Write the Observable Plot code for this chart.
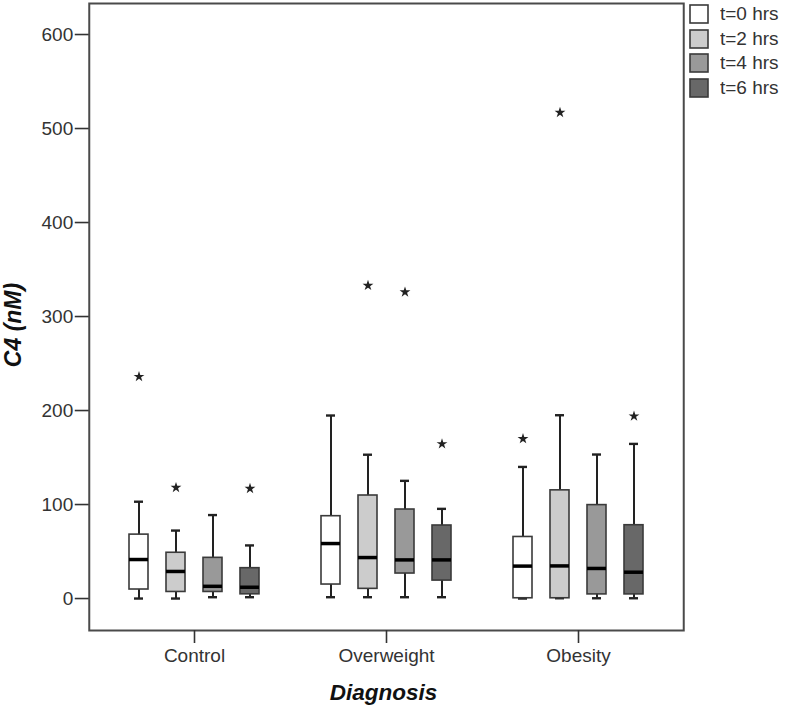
<!DOCTYPE html>
<html>
<head>
<meta charset="utf-8">
<script src="https://cdn.jsdelivr.net/npm/d3@7"></script>
<script src="https://cdn.jsdelivr.net/npm/@observablehq/plot@0.6"></script>
<style>
  html, body { margin: 0; padding: 0; background: #fff; }
  #wrap { position: relative; width: 787px; height: 706px; }
  #legend { position: absolute; left: 690px; top: 2px; }
  div.lg-swatches { font-family: "Liberation Sans", Arial, sans-serif !important; font-size: 19px !important; color: #333 !important; margin: 0 !important; }
  div.lg-swatch { height: 24.5px; padding-bottom: 0 !important; margin: 0 !important; }
  div.lg-swatch > svg { margin-right: 12px !important; }
  div.lg-swatch > svg rect { stroke: #3a3a3a; stroke-width: 1.6px; }
</style>
</head>
<body>
<div id="wrap"><div id="chart"></div><div id="legend"></div></div>
<script>
const diagnoses = ["Control", "Overweight", "Obesity"];
const times = ["t=0 hrs", "t=2 hrs", "t=4 hrs", "t=6 hrs"];
const fills = ["#ffffff", "#cccccc", "#999999", "#686868"];
const yTicks = [0, 100, 200, 300, 400, 500, 600];

// rows: diagnoses, columns: times
const whiskerMin = [[0, 0, 1.4, 1.4], [1.4, 1.4, 1.4, 1.4], [0, 0.3, 0.3, 0.3]];
const q1 = [[9.6, 7, 7, 4.5], [14.9, 10.3, 26.6, 19.1], [0.3, 0.3, 4.4, 4.4]];
const median = [[41.5, 28.8, 13, 12], [58.5, 43.6, 41.1, 41.1], [34.5, 34.7, 32, 28]];
const q3 = [[68, 48.7, 43.3, 32.3], [87.6, 109.6, 94.7, 77.7], [65.5, 115.1, 99.4, 78]];
const whiskerMax = [[103, 72.3, 88.8, 56.5], [194.7, 153, 125.2, 95.4], [140, 195, 153.2, 164.5]];

const outlierDiagnosis = ["Control", "Control", "Control", "Overweight", "Overweight", "Overweight", "Obesity", "Obesity", "Obesity"];
const outlierTime = ["t=0 hrs", "t=2 hrs", "t=6 hrs", "t=2 hrs", "t=4 hrs", "t=6 hrs", "t=0 hrs", "t=2 hrs", "t=6 hrs"];
const outlierValue = [236, 118, 117, 333, 326, 164.5, 170, 517, 194];

const boxes = [];
diagnoses.forEach((d, i) => times.forEach((t, j) => boxes.push({
  diag: d, time: t, min: whiskerMin[i][j], q1: q1[i][j], median: median[i][j], q3: q3[i][j], max: whiskerMax[i][j]
})));
const outliers = outlierValue.map((v, k) => ({diag: outlierDiagnosis[k], time: outlierTime[k], value: v}));

const font = '"Liberation Sans", Arial, sans-serif';
const outer = 0.048;
const fxStep = 596 / (3 + 2 * outer);
const pad = outer * fxStep;

const chart = Plot.plot({
  width: 787,
  height: 706,
  marginLeft: 88,
  marginRight: 103,
  marginTop: 3,
  marginBottom: 76,
  style: {fontFamily: font, fontSize: "19px", color: "#333", background: "white", overflow: "visible"},
  fx: {domain: diagnoses, paddingInner: 0, paddingOuter: outer, label: null, axis: null},
  x: {domain: times, paddingInner: 0.474, paddingOuter: 0.77, axis: null},
  y: {domain: [-34, 633]},
  color: {domain: times, range: fills},
  marks: [
    Plot.frame({facet: "super", stroke: "#4a4a4a", strokeWidth: 2, insetLeft: -pad, insetRight: -pad}),
    Plot.axisY({ticks: yTicks, tickSize: 14, tickPadding: 2, label: null, fontSize: 19, stroke: "#333", strokeWidth: 1.6, dx: -pad}),
    Plot.axisFx({anchor: "bottom", tickSize: 13, tickPadding: 5, label: null, fontSize: 19, stroke: "#333", strokeWidth: 1.6}),
    Plot.ruleX(boxes, {fx: "diag", x: "time", y1: "min", y2: "max", stroke: "#222", strokeWidth: 2}),
    Plot.tickY(boxes, {fx: "diag", x: "time", y: "max", stroke: "#222", strokeWidth: 2.4, inset: 5}),
    Plot.tickY(boxes, {fx: "diag", x: "time", y: "min", stroke: "#222", strokeWidth: 2.4, inset: 5}),
    Plot.barY(boxes, {fx: "diag", x: "time", y1: "q1", y2: "q3", fill: "time", stroke: "#3a3a3a", strokeWidth: 1.6}),
    Plot.tickY(boxes, {fx: "diag", x: "time", y: "median", stroke: "#000", strokeWidth: 3.5}),
    Plot.dot(outliers, {fx: "diag", x: "time", y: "value", symbol: "star", r: 3.4, fill: "#222", stroke: "none"}),
    Plot.text(["C4 (nM)"], {facet: "super", frameAnchor: "left", textAnchor: "middle", lineAnchor: "middle", rotate: -90, dx: -85, dy: 8, fontSize: 23, fontWeight: "bold", fontStyle: "italic", fill: "#111"}),
    Plot.text(["Diagnosis"], {facet: "super", frameAnchor: "bottom", lineAnchor: "middle", dy: 62, dx: -3, fontSize: 22.5, fontWeight: "bold", fontStyle: "italic", fill: "#111"})
  ]
});
document.getElementById("chart").appendChild(chart);

const legend = Plot.legend({
  color: {type: "ordinal", domain: times, range: fills},
  legend: "swatches",
  columns: 1,
  swatchSize: 18,
  className: "lg"
});
document.getElementById("legend").appendChild(legend);
</script>
</body>
</html>
